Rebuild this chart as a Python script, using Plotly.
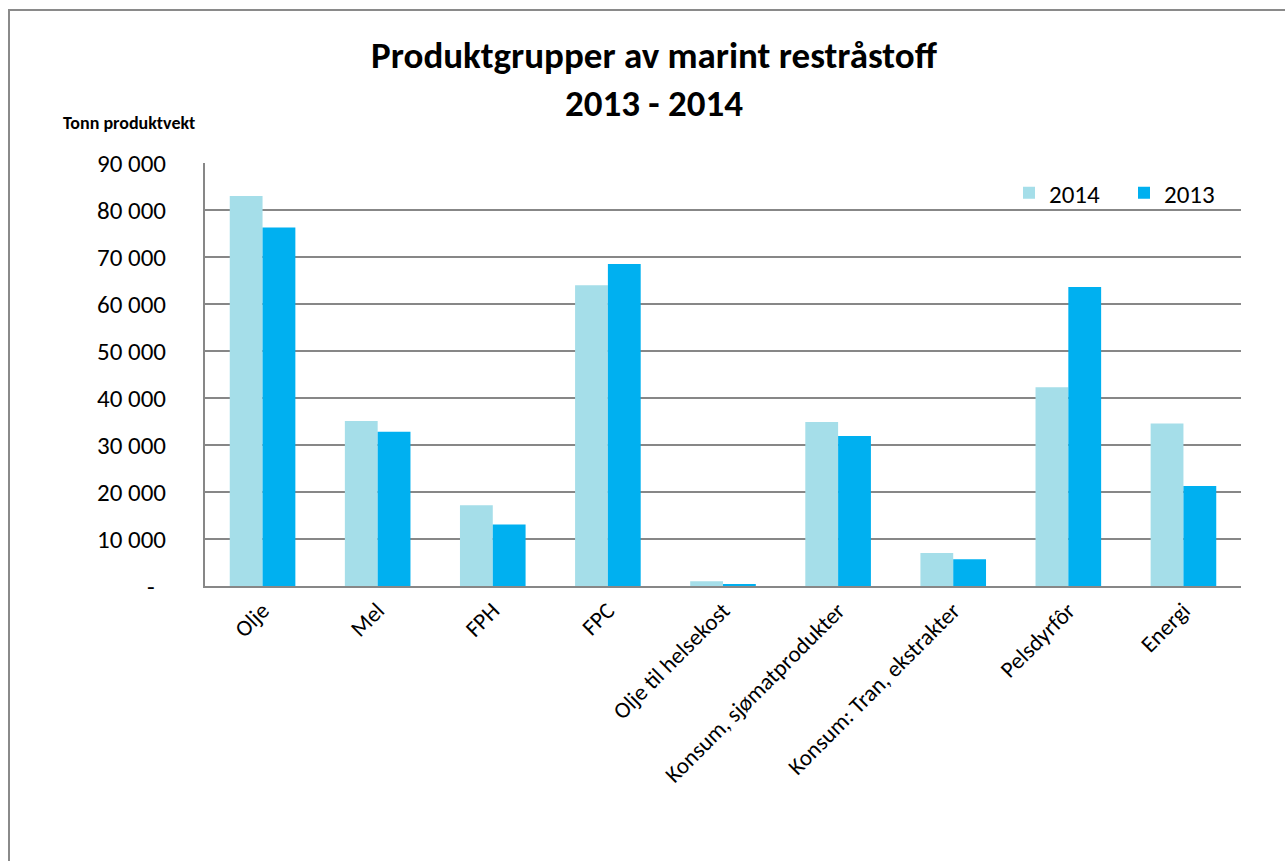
import plotly.graph_objects as go

# Product groups and volumes (tonnes product weight)
categories = [
    "Olje", "Mel", "FPH", "FPC", "Olje til helsekost",
    "Konsum, sjømatprodukter", "Konsum: Tran, ekstrakter", "Pelsdyrfôr", "Energi",
]
values_2014 = [83000, 35100, 17200, 64000, 1000, 34900, 7000, 42300, 34600]
values_2013 = [76300, 32800, 13100, 68500, 400, 31900, 5700, 63600, 21300]

y_tickvals = [0, 10000, 20000, 30000, 40000, 50000, 60000, 70000, 80000, 90000]
# accounting-style format: zero shown as a dash with trailing padding
y_ticktext = ["-\u00a0\u00a0", "10 000", "20 000", "30 000", "40 000", "50 000",
              "60 000", "70 000", "80 000", "90 000"]

FONT = "Carlito, Lato, sans-serif"
GRID = "#878787"

fig = go.Figure()
fig.add_trace(go.Bar(name="2014", x=categories, y=values_2014,
                     marker=dict(color="#A5DEE9", line=dict(width=0))))
fig.add_trace(go.Bar(name="2013", x=categories, y=values_2013,
                     marker=dict(color="#00B0F0", line=dict(width=0))))

# plot area: x 205..1241, y 163..586 in a 1285x861 page
L, R, T, B = 205, 1241, 163, 586
W, H = 1285, 861
pw, ph = R - L, B - T

def px_x(x):
    return (x - L) / pw

def px_y(y):
    return (B - y) / ph

fig.update_layout(
    width=W, height=H,
    margin=dict(l=L, r=W - R, t=T, b=H - B, pad=0),
    paper_bgcolor="white", plot_bgcolor="white",
    font=dict(family=FONT, color="#000000"),
    barmode="group", bargap=0.43, bargroupgap=0.0,
    title=dict(
        text="<b>Produktgrupper av marint restråstoff<br>2013 - 2014</b>",
        font=dict(size=37, family=FONT, color="#000000"),
        x=654 / W, xanchor="center", y=1 - 68 / H, yanchor="middle",
    ),
    xaxis=dict(
        range=[-0.5, len(categories) - 0.5],
        showgrid=False, showline=True, linecolor=GRID, linewidth=2,
        ticks="", tickangle=-45,
        tickfont=dict(size=23, family=FONT, color="#000000"),
    ),
    yaxis=dict(
        range=[0, 90000], tickvals=y_tickvals, ticktext=y_ticktext,
        showgrid=True, gridcolor=GRID, gridwidth=2,
        showline=True, linecolor=GRID, linewidth=2,
        zeroline=False, ticks="", ticklabelstandoff=32,
        tickfont=dict(size=25, family=FONT, color="#000000"),
    ),
    legend=dict(
        orientation="h", x=px_x(1009), xanchor="left",
        y=px_y(193), yanchor="middle",
        font=dict(size=25, family=FONT, color="#000000"),
        bgcolor="rgba(0,0,0,0)", entrywidth=70, traceorder="normal",
    ),
    showlegend=True,
)

fig.add_annotation(
    text="<b>Tonn produktvekt</b>", xref="paper", yref="paper",
    x=px_x(61), y=px_y(123), xanchor="left", yanchor="middle",
    showarrow=False, font=dict(size=18, family=FONT, color="#000000"),
)

# outer chart frame
fig.add_shape(
    type="rect", xref="paper", yref="paper",
    x0=px_x(9), x1=px_x(1300), y0=px_y(900), y1=px_y(10),
    line=dict(color="#8a8a8a", width=2), fillcolor="rgba(0,0,0,0)", layer="below",
)

fig.write_html("out.html")
